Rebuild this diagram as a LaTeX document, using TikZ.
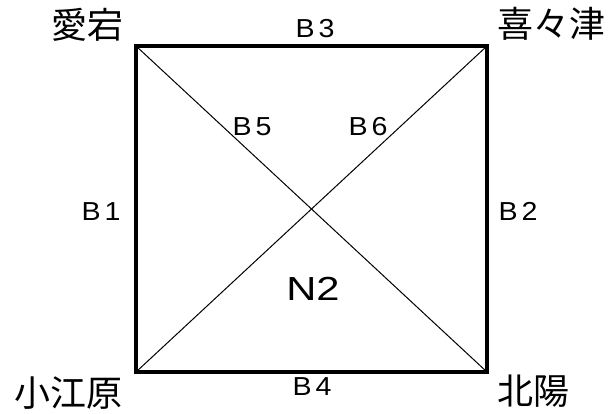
\documentclass[tikz,border=0pt]{standalone}
\usepackage{fontspec}
\setmainfont{Liberation Sans}
\newfontfamily\jpfont{Noto Sans CJK JP}
\newfontfamily\zonefont[FakeStretch=1.25]{Liberation Sans}
\newfontfamily\linkfont[FakeStretch=1.1]{Liberation Sans}
\newcommand{\blink}[1]{B\hspace{3pt}#1}
\usetikzlibrary{positioning}

\begin{document}
\begin{tikzpicture}[x=0.75pt,y=-0.75pt]
  \tikzset{
    stn/.style={font=\jpfont\fontsize{27}{27}\selectfont, inner sep=0pt},
    blbl/.style={font=\linkfont\fontsize{19.5}{19.5}\selectfont, inner sep=0pt, anchor=base},
    zone/.style={font=\zonefont\fontsize{25}{25}\selectfont, inner sep=0pt, anchor=base},
    border/.style={line width=3pt, line join=miter},
    diag/.style={line width=0.75pt},
  }
  \useasboundingbox (0,0) rectangle (614,414);
  % corners of the block
  \coordinate (atago) at (136,46);
  \coordinate (kiditsu) at (487,46);
  \coordinate (koebaru) at (136,372);
  \coordinate (hokuyo) at (487,372);
  % station names
  \node[stn] (nAtago) at (87,25) {愛宕};
  \node[stn] (nKiditsu) at (551,24) {喜々津};
  \node[stn] (nKoebaru) at (68,393) {小江原};
  \node[stn] (nHokuyo) at (533,391) {北陽};
  % links
  \draw[diag] (atago) -- (hokuyo);
  \draw[diag] (koebaru) -- (kiditsu);
  \draw[border] (atago) -- (kiditsu) -- (hokuyo) -- (koebaru) -- cycle;
  % link labels
  \node[blbl] (b1) at (101,220) {\blink{1}};
  \node[blbl] (b2) at (518,220) {\blink{2}};
  \node[blbl] (b3) at (315,37) {\blink{3}};
  \node[blbl] (b4) at (312,395) {\blink{4}};
  \node[blbl] (b5) at (252,135) {\blink{5}};
  \node[blbl] (b6) at (368,135) {\blink{6}};
  \node[zone] (n2) at (313,300) {N2};
\end{tikzpicture}
\end{document}
